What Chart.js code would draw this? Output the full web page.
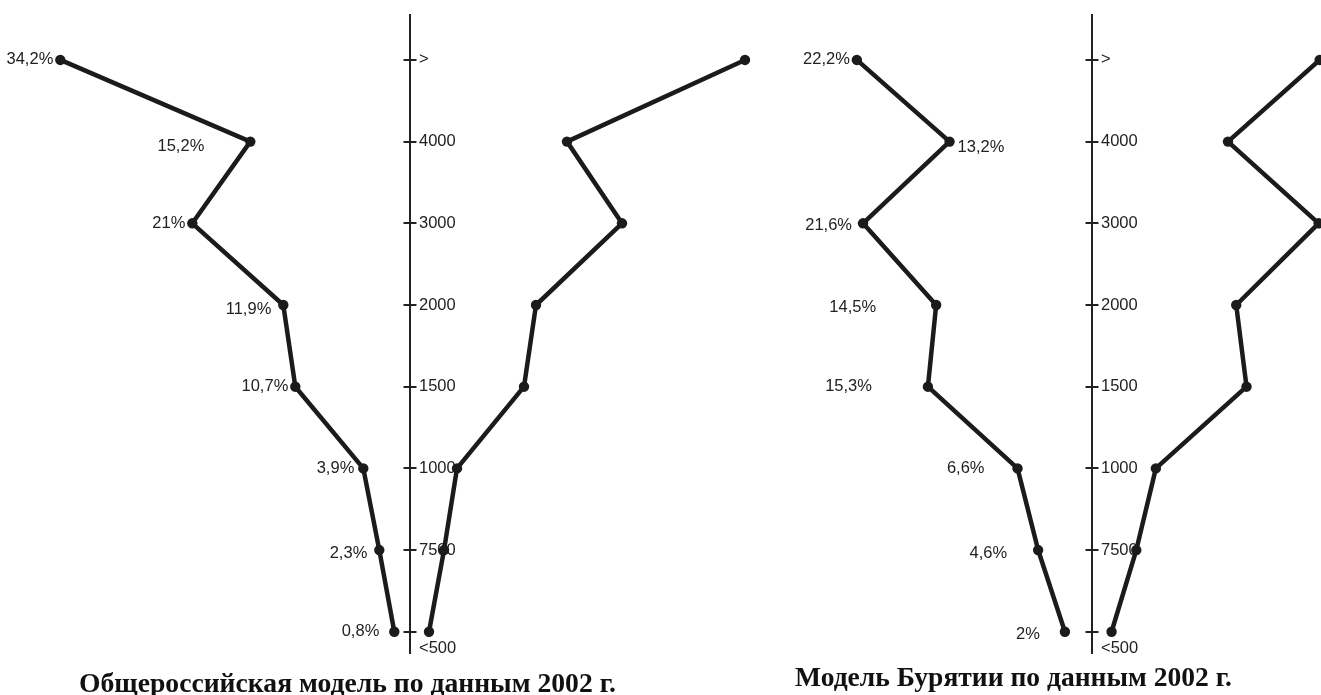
<!DOCTYPE html>
<html lang="ru">
<head>
<meta charset="UTF-8">
<title>Модели распределения доходов, 2002 г.</title>
<script src="https://cdn.jsdelivr.net/npm/chart.js"></script>
<style>
  body { margin: 0; background: #fff; width: 1321px; height: 695px; overflow: hidden; position: relative; }
  canvas { position: absolute; top: 0; }
  .caption {
    position: absolute;
    white-space: nowrap;
    font-family: 'Liberation Serif', 'Times New Roman', serif;
    font-weight: bold;
    color: #111;
    line-height: 1;
    transform-origin: 0 0;
  }
</style>
</head>
<body>
<canvas id="rusLeft" width="420" height="695" style="left:0px"></canvas>
<canvas id="rusRight" width="360" height="695" style="left:400px"></canvas>
<canvas id="burLeft" width="442" height="695" style="left:660px"></canvas>
<canvas id="burRight" width="239" height="695" style="left:1082px"></canvas>

<div class="caption" id="capRus" style="left:79px; top:669px; font-size:28px">Общероссийская модель по данным 2002 г.</div>
<div class="caption" id="capBur" style="left:795px; top:664px; font-size:27px">Модель Бурятии по данным 2002 г.</div>

<script>
// income groups, bottom to top
var incomeGroups = ['<500', '7500', '1000', '1500', '2000', '3000', '4000', '>'];

// shares, % (left side, labelled)
var russiaShares = [0.8, 2.3, 3.9, 10.7, 11.9, 21, 15.2, 34.2];
var buryatiaShares = [2, 4.6, 6.6, 15.3, 14.5, 21.6, 13.2, 22.2];

// mirrored side (no labels)
var russiaMirror = [1.9, 3.4, 4.7, 11.4, 12.6, 21.2, 15.7, 33.5];
var buryatiaMirror = [1.9, 4.3, 6.2, 15.0, 14.0, 22.0, 13.2, 22.1];

// where each % label sits relative to its point [dx, dy]
var russiaNudge = [[-15, 0], [-12, 3], [-9, 0], [-7, 0], [-12, 4], [-7, 0], [-46, 5], [-7, 0]];
var buryatiaNudge = [[-25, 3], [-31, 3], [-33, 0], [-56, 0], [-60, 2], [-11, 2], [8, 6], [-7, 0]];

var INK = '#1b1b1b';
var Y_MIN = -0.26, Y_MAX = 7.55;

Chart.defaults.font.family = "'Liberation Sans', Arial, sans-serif";
Chart.defaults.font.size = 16.5;
Chart.defaults.color = '#222';
Chart.defaults.animation = false;

function points(values) {
    return values.map(function (v, i) { return { x: v, y: i }; });
}

function pctText(v) {
    return String(v).replace('.', ',') + '%';
}

function labelPlugin(values, nudge) {
    return {
        id: 'pctLabels',
        afterDatasetsDraw: function (chart) {
            var ctx = chart.ctx;
            var meta = chart.getDatasetMeta(0);
            ctx.save();
            ctx.font = "16.5px 'Liberation Sans', Arial, sans-serif";
            ctx.fillStyle = '#222';
            ctx.textBaseline = 'middle';
            meta.data.forEach(function (pt, i) {
                var n = nudge[i];
                ctx.textAlign = n[0] < 0 ? 'right' : 'left';
                ctx.fillText(pctText(values[i]), pt.x + n[0], pt.y + n[1]);
            });
            ctx.restore();
        }
    };
}

// one half of a panel; side = where its y axis sits
function half(id, values, xMin, xMax, reverse, side, plugin) {
    var withLabels = side === 'left';
    return new Chart(document.getElementById(id), {
        type: 'line',
        data: {
            datasets: [{
                data: points(values),
                borderColor: INK,
                backgroundColor: INK,
                borderWidth: 4.5,
                borderJoinStyle: 'round',
                pointRadius: 5.2,
                pointBorderWidth: 0,
                pointBackgroundColor: INK,
                tension: 0,
                clip: false
            }]
        },
        options: {
            responsive: false,
            indexAxis: 'y',
            events: [],
            layout: { autoPadding: false, padding: { top: 15, bottom: 42, left: 0, right: 0 } },
            plugins: { legend: { display: false }, tooltip: { enabled: false } },
            scales: {
                x: { type: 'linear', display: false, min: xMin, max: xMax, reverse: reverse },
                y: {
                    type: 'linear',
                    position: side,
                    min: Y_MIN,
                    max: Y_MAX,
                    afterFit: function (s) {
                        s.width = 10;
                        s.paddingTop = 0;
                        s.paddingBottom = 0;
                    },
                    border: { display: withLabels, color: '#222', width: 2 },
                    grid: { drawOnChartArea: false, drawTicks: true, tickLength: 6.5, color: '#222', lineWidth: 2 },
                    ticks: {
                        display: withLabels,
                        mirror: true,
                        padding: 9,
                        stepSize: 1,
                        includeBounds: false,
                        autoSkip: false,
                        color: '#222',
                        font: function (c) {
                            return (c.tick && c.tick.value === 0) ? { size: 16.5, lineHeight: 2 } : { size: 16.5 };
                        },
                        callback: function (v) {
                            var name = incomeGroups[v];
                            return v === 0 ? ['', name] : name;
                        }
                    }
                }
            }
        },
        plugins: plugin ? [plugin] : []
    });
}

// Общероссийская: axis at x=410, 10 px per %
half('rusLeft', russiaShares, -0.77, 40.23, true, 'right', labelPlugin(russiaShares, russiaNudge));
half('rusRight', russiaMirror, 0, 35, false, 'left');

// Бурятия: axis at x=1092, 10.3 px per %
half('burLeft', buryatiaShares, -0.63, 41.31, true, 'right', labelPlugin(buryatiaShares, buryatiaNudge));
half('burRight', buryatiaMirror, 0, 22.23, false, 'left');

function fitCaption(id, target) {
    var el = document.getElementById(id);
    var w = el.getBoundingClientRect().width;
    el.style.transform = 'scaleX(' + (target / w) + ')';
}
fitCaption('capRus', 537);
fitCaption('capBur', 437);
</script>
</body>
</html>
